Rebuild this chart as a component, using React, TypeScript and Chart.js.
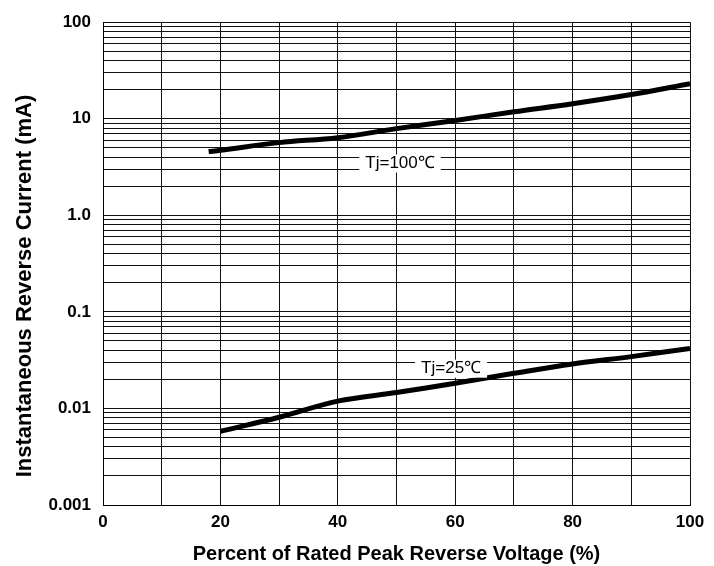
import React, { useEffect, useRef } from "react";
import { Chart, registerables } from "chart.js";

Chart.register(...registerables);

const hotX = [18, 20, 30, 40, 50, 60, 70, 80, 90, 100];
const hotY = [4.57, 4.71, 5.66, 6.37, 7.9, 9.6, 11.8, 14.3, 17.8, 23.1];
const coldX = [20, 30, 40, 50, 60, 70, 80, 90, 100];
const coldY = [0.0058, 0.0081, 0.0119, 0.0146, 0.0182, 0.0231, 0.0289, 0.0344, 0.0419];
const curveLabels = ["Tj=100℃", "Tj=25℃"];
const curveLabelX = [50.6, 59.3];
const curveLabelY = [3.44, 0.0258];
const xLabelValues = [0, 20, 40, 60, 80, 100];
const yLabelValues = [100, 10, 1, 0.1, 0.01, 0.001];
const yLabelTexts = ["100", "10", "1.0", "0.1", "0.01", "0.001"];
const decadeStarts = [0.001, 0.01, 0.1, 1, 10];
const mantissas = [1, 2, 3, 4, 5, 6, 7, 8, 9];
const yTitle = "Instantaneous Reverse Current (mA)";

const FONT = "Arial, 'Liberation Sans', sans-serif";

const labelPlugin = {
  id: "curveLabels",
  afterDatasetsDraw(chart: any) {
    const ctx = chart.ctx;
    const xs = chart.scales.x;
    const ys = chart.scales.y;
    ctx.save();
    ctx.font = `17px ${FONT}`;
    ctx.textAlign = "center";
    ctx.textBaseline = "middle";
    curveLabels.forEach((t, i) => {
      const px = xs.getPixelForValue(curveLabelX[i]);
      const py = ys.getPixelForValue(curveLabelY[i]);
      const w = ctx.measureText(t).width + 12;
      ctx.fillStyle = "#fff";
      ctx.fillRect(px - w / 2, py - 9, w, 18);
      ctx.fillStyle = "#000";
      ctx.fillText(t, px, py);
    });
    ctx.restore();
  },
  afterDraw(chart: any) {
    const ctx = chart.ctx;
    ctx.save();
    ctx.font = `bold 22px ${FONT}`;
    ctx.fillStyle = "#000";
    ctx.textAlign = "center";
    ctx.textBaseline = "middle";
    ctx.translate(25, 286);
    ctx.rotate(-Math.PI / 2);
    ctx.fillText(yTitle, 0, 0);
    ctx.restore();
  },
};

export default function App() {
  const ref = useRef<HTMLCanvasElement>(null);
  useEffect(() => {
    document.body.style.margin = "0";
    const chart = new Chart(ref.current!, {
      type: "line",
      data: {
        datasets: [
          {
            label: "Tj=100",
            data: hotX.map((x, i) => ({ x, y: hotY[i] })),
            borderColor: "#000",
            borderWidth: 5,
            pointRadius: 0,
            tension: 0.35,
          },
          {
            label: "Tj=25",
            data: coldX.map((x, i) => ({ x, y: coldY[i] })),
            borderColor: "#000",
            borderWidth: 5,
            pointRadius: 0,
            tension: 0.35,
          },
        ],
      },
      options: {
        animation: false,
        responsive: false,
        maintainAspectRatio: false,
        layout: { padding: { top: 19, right: 24, left: 0, bottom: 0 } },
        plugins: { legend: { display: false }, tooltip: { enabled: false } },
        scales: {
          x: {
            type: "linear",
            min: 0,
            max: 100,
            afterFit: (s: any) => {
              s.height = 61;
            },
            border: { color: "#000", width: 1 },
            grid: { color: "#111", lineWidth: 1, drawTicks: false },
            ticks: {
              stepSize: 10,
              autoSkip: false,
              maxRotation: 0,
              padding: 7,
              color: "#000",
              font: { family: FONT, size: 17, weight: "bold" },
              callback: (v: any) => (xLabelValues.includes(Number(v)) ? String(v) : ""),
            },
            title: {
              display: true,
              text: "Percent of Rated Peak Reverse Voltage (%)",
              color: "#000",
              font: { family: FONT, size: 20, weight: "bold" },
              padding: { top: 4, bottom: 0 },
            },
          },
          y: {
            type: "logarithmic",
            min: 0.001,
            max: 100,
            afterBuildTicks: (s: any) => {
              const t: any[] = [];
              decadeStarts.forEach((d) =>
                mantissas.forEach((m) => t.push({ value: Number((d * m).toPrecision(3)) }))
              );
              t.push({ value: 100 });
              s.ticks = t;
            },
            afterFit: (s: any) => {
              s.width = 103;
            },
            border: { color: "#000", width: 1 },
            grid: { color: "#111", lineWidth: 1, drawTicks: false },
            ticks: {
              autoSkip: false,
              padding: 12,
              color: "#000",
              font: { family: FONT, size: 17, weight: "bold" },
              callback: (v: any) => {
                const n = Number(v);
                const idx = yLabelValues.findIndex((d) => Math.abs(d - n) / d < 1e-6);
                return idx >= 0 ? yLabelTexts[idx] : "";
              },
            },
          },
        },
      },
      plugins: [labelPlugin],
    } as any);
    return () => chart.destroy();
  }, []);
  return (
    <div style={{ position: "absolute", left: 0, top: 0, width: 714, height: 566, background: "#fff" }}>
      <canvas ref={ref} width={714} height={566} style={{ width: 714, height: 566 }} />
    </div>
  );
}
